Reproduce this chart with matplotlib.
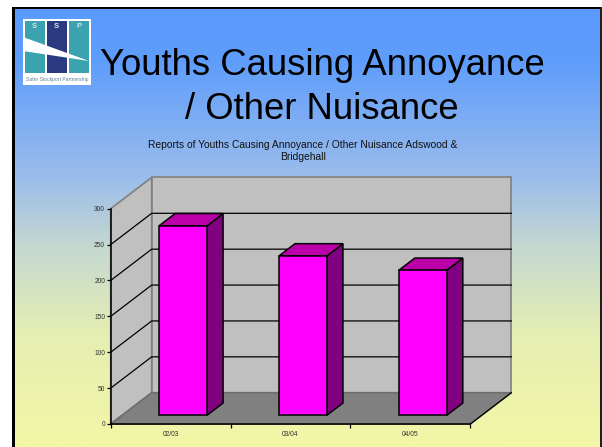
"""Slide with a pseudo-3D bar chart: youths causing annoyance reports."""

import matplotlib

matplotlib.use("Agg")
import matplotlib.pyplot as plt
import numpy as np
from matplotlib.colors import LinearSegmentedColormap
from matplotlib.patches import Polygon, Rectangle

plt.rcParams["font.family"] = ["Liberation Sans", "DejaVu Sans"]

W, H = 602, 447

CATEGORIES = ["02/03", "03/04", "04/05"]
REPORTS = [264, 222, 202]
Y_TICKS = [0, 50, 100, 150, 200, 250, 300]

SLIDE_TITLE = ["Youths Causing Annoyance", "/ Other Nuisance"]
CHART_TITLE = ["Reports of Youths Causing Annoyance / Other Nuisance Adswood &", "Bridgehall"]

# depth of the fake 3D box, in data units of the chart axes
DEPTH_X = 0.342
DEPTH_Y = 43.6
BAR_WIDTH = 0.4
BAR_Z0 = 0.278
BAR_Z1 = 0.671


def project(x, y, z):
    return x + z * DEPTH_X, y + z * DEPTH_Y


def face(ax, corners, color, edge="black", lw=1.1, zorder=3):
    pts = [project(*c) for c in corners]
    ax.add_patch(Polygon(pts, closed=True, facecolor=color, edgecolor=edge, linewidth=lw,
                         zorder=zorder, clip_on=False, joinstyle="miter"))


def draw_slide(bg):
    bg.set_xlim(0, W)
    bg.set_ylim(H, 0)
    bg.axis("off")

    # slide background gradient
    cmap = LinearSegmentedColormap.from_list("slide", [
        (0.0, "#5b9bff"), (0.12, "#5f9dfb"), (0.38, "#9abcec"),
        (0.55, "#c6d9d0"), (0.75, "#e6efb2"), (1.0, "#f3f6a6"),
    ])
    grad = np.linspace(0, 1, 440).reshape(-1, 1)
    bg.imshow(grad, cmap=cmap, extent=(14, 601, H, 8), aspect="auto", zorder=0)
    bg.set_xlim(0, W)
    bg.set_ylim(H, 0)

    # black frame, open at the bottom
    bg.add_patch(Rectangle((12, 7), 3, H, color="black", zorder=1, linewidth=0))
    bg.add_patch(Rectangle((12, 7), 590, 2.3, color="black", zorder=1, linewidth=0))
    bg.add_patch(Rectangle((600, 7), 2, H, color="#202020", zorder=1, linewidth=0))

    # logo
    bg.add_patch(Rectangle((23, 19), 68, 66, color="white", zorder=2, linewidth=0))
    bg.add_patch(Rectangle((25, 21), 19.5, 52, color="#3ba3b0", zorder=3, linewidth=0))
    bg.add_patch(Rectangle((47, 21), 19.5, 52, color="#2b3a80", zorder=3, linewidth=0))
    bg.add_patch(Rectangle((69, 21), 20, 52, color="#3ba3b0", zorder=3, linewidth=0))
    bg.add_patch(Polygon([(23, 37), (89, 61), (23, 51)], color="white", zorder=4, linewidth=0))
    for x, letter in zip((34.5, 56.5, 79), "SSP"):
        bg.text(x, 27, letter, color="#d5e6ea", fontsize=5.5, fontweight="bold",
                ha="center", va="center", zorder=5)
    bg.text(57, 80, "Safer Stockport Partnership", color="#5f7f9c", fontsize=3.6,
            ha="center", va="center", zorder=5)

    # slide title
    for y, line in zip((75, 119), SLIDE_TITLE):
        bg.text(322.3, y, line, color="black", fontsize=26.3, ha="center", va="baseline", zorder=5)
    # chart title
    for y, line in zip((144.7, 157), CHART_TITLE):
        bg.text(302.7, y, line, color="#111111", fontsize=7.4, ha="center", va="center", zorder=5)


def draw_chart(ax):
    ax.set_xlim(0, len(CATEGORIES))
    ax.set_ylim(0, Y_TICKS[-1])
    ax.patch.set_alpha(0)
    for name in ("top", "right"):
        ax.spines[name].set_visible(False)
    for name in ("left", "bottom"):
        ax.spines[name].set_linewidth(1.1)
        ax.spines[name].set_zorder(6)

    nx = len(CATEGORIES)
    top = Y_TICKS[-1]

    # walls and floor
    face(ax, [(0, 0, 0), (0, top, 0), (0, top, 1), (0, 0, 1)], "#c0c0c0", edge="#808080", lw=1.2, zorder=1)
    face(ax, [(0, 0, 1), (0, top, 1), (nx, top, 1), (nx, 0, 1)], "#c0c0c0", edge="#808080", lw=1.2, zorder=1)
    face(ax, [(0, 0, 0), (0, 0, 1), (nx, 0, 1), (nx, 0, 0)], "#808080", edge="#6e6e6e", lw=1.2, zorder=1.5)

    # gridlines, side wall then back wall
    for v in Y_TICKS[1:-1]:
        xs, ys = zip(project(0, v, 0), project(0, v, 1), project(nx, v, 1))
        ax.plot(xs, ys, color="black", lw=0.9, zorder=2, clip_on=False)
    xs, ys = zip(project(nx, 0, 0), project(nx, 0, 1))
    ax.plot(xs, ys, color="black", lw=0.9, zorder=2, clip_on=False)

    # bars: front, top and right faces
    for i, v in enumerate(REPORTS):
        x0 = i + 0.5 - BAR_WIDTH / 2 + 0.008
        x1 = x0 + BAR_WIDTH
        z0, z1 = BAR_Z0, BAR_Z1
        face(ax, [(x1, 0, z0), (x1, v, z0), (x1, v, z1), (x1, 0, z1)], "#800080")
        face(ax, [(x0, v, z0), (x0, v, z1), (x1, v, z1), (x1, v, z0)], "#bb00aa")
        face(ax, [(x0, 0, z0), (x0, v, z0), (x1, v, z0), (x1, 0, z0)], "#ff00ff")

    ax.set_yticks(Y_TICKS)
    ax.set_xticks(range(nx + 1))
    ax.set_xticklabels([])
    ax.set_xticks([i + 0.5 for i in range(nx)], labels=CATEGORIES, minor=True)
    ax.tick_params(axis="y", length=3, width=0.9, labelsize=4.8, pad=1, labelcolor="#333333")
    ax.tick_params(axis="x", which="major", length=3, width=0.9)
    ax.tick_params(axis="x", which="minor", length=0, labelsize=4.8, pad=5, labelcolor="#333333")


def main():
    fig = plt.figure(figsize=(W / 100, H / 100), dpi=100)
    fig.patch.set_facecolor("white")

    bg = fig.add_axes([0, 0, 1, 1], zorder=0)
    draw_slide(bg)

    # chart front plane: x 110.7..470.3, y 208.7..424 in picture pixels
    left, right, top_px, bottom_px = 110.7, 470.3, 208.7, 424.0
    ax = fig.add_axes([left / W, 1 - bottom_px / H, (right - left) / W, (bottom_px - top_px) / H], zorder=1)
    draw_chart(ax)

    fig.savefig("out.png", dpi=100)


if __name__ == "__main__":
    main()
